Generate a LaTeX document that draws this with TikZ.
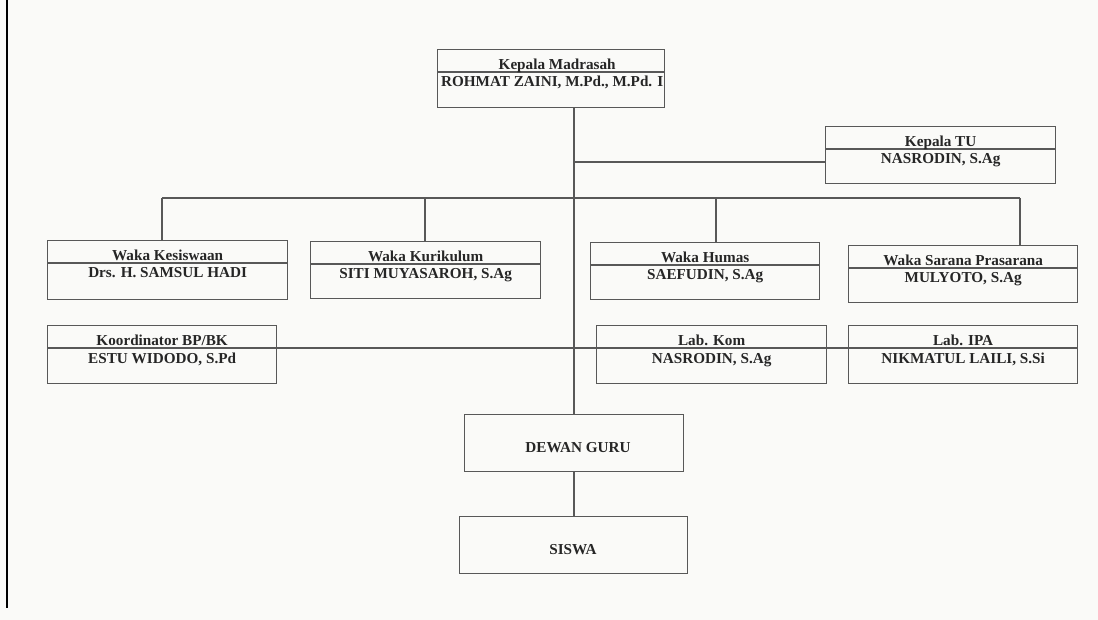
\documentclass[tikz,border=0pt]{standalone}
\usepackage{fontspec}
\setmainfont{Liberation Serif}
\usepackage{tikz}
\usetikzlibrary{calc}
\definecolor{linegray}{RGB}{88,88,88}
\definecolor{paper}{RGB}{250,250,248}

\begin{document}
\begin{tikzpicture}[x=1pt,y=-1pt,
	unit/.style={draw=linegray, line width=1.3pt, anchor=north west, inner sep=0pt},
	link/.style={draw=linegray, line width=1.3pt},
	txt/.style={font=\fontsize{15.2}{17}\selectfont\bfseries, text=black!85, anchor=base, inner sep=0pt}]
				\fill[paper] (0,0) rectangle (1098,620);
				\useasboundingbox (0,0) rectangle (1098,620);
				\draw[line width=1.4pt] (7,0) -- (7,608);

				\node[unit, minimum width=227pt, minimum height=58pt] (kamad) at (437,49) {};
				\node[unit, minimum width=230pt, minimum height=57pt] (katu) at (825,126) {};
				\node[unit, minimum width=240pt, minimum height=59pt] (wkes) at (47,240) {};
				\node[unit, minimum width=230pt, minimum height=57pt] (wkur) at (310,241) {};
				\node[unit, minimum width=229pt, minimum height=57pt] (whum) at (590,242) {};
				\node[unit, minimum width=229pt, minimum height=57pt] (wsar) at (848,245) {};
				\node[unit, minimum width=229pt, minimum height=58pt] (koord) at (47,325) {};
				\node[unit, minimum width=230pt, minimum height=58pt] (labkom) at (596,325) {};
				\node[unit, minimum width=229pt, minimum height=58pt] (labipa) at (848,325) {};
				\node[unit, minimum width=219pt, minimum height=57pt] (dewan) at (464,414) {};
				\node[unit, minimum width=228pt, minimum height=57pt] (siswa) at (459,516) {};

				\foreach \b in {kamad,katu,wkes,wkur,whum,wsar,koord,labkom,labipa}
					\draw[link] ($(\b.north west)+(0,23)$) -- ($(\b.north east)+(0,23)$);

				\node[txt] (kamadT) at ($(kamad.north)+(6,21)$) {Kepala Madrasah};
				\node[txt] (kamadN) at ($(kamad.north)+(1,38)$) {ROHMAT ZAINI, M.Pd., M.Pd. I};
				\node[txt] (katuT) at ($(katu.north)+(0,21)$) {Kepala TU};
				\node[txt] (katuN) at ($(katu.north)+(0,38)$) {NASRODIN, S.Ag};
				\node[txt] (wkesT) at ($(wkes.north)+(0,21)$) {Waka Kesiswaan};
				\node[txt] (wkesN) at ($(wkes.north)+(0,38)$) {Drs. H. SAMSUL HADI};
				\node[txt] (wkurT) at ($(wkur.north)+(0,21)$) {Waka Kurikulum};
				\node[txt] (wkurN) at ($(wkur.north)+(0,38)$) {SITI MUYASAROH, S.Ag};
				\node[txt] (whumT) at ($(whum.north)+(0,21)$) {Waka Humas};
				\node[txt] (whumN) at ($(whum.north)+(0,38)$) {SAEFUDIN, S.Ag};
				\node[txt] (wsarT) at ($(wsar.north)+(0,21)$) {Waka Sarana Prasarana};
				\node[txt] (wsarN) at ($(wsar.north)+(0,38)$) {MULYOTO, S.Ag};
				\node[txt] (koordT) at ($(koord.north)+(0,21)$) {Koordinator BP/BK};
				\node[txt] (koordN) at ($(koord.north)+(0,38)$) {ESTU WIDODO, S.Pd};
				\node[txt] (labkomT) at ($(labkom.north)+(0,21)$) {Lab. Kom};
				\node[txt] (labkomN) at ($(labkom.north)+(0,38)$) {NASRODIN, S.Ag};
				\node[txt] (labipaT) at ($(labipa.north)+(0,21)$) {Lab. IPA};
				\node[txt] (labipaN) at ($(labipa.north)+(0,38)$) {NIKMATUL LAILI, S.Si};
				\node[txt] (dewanT) at (578,452) {DEWAN GURU};
				\node[txt] (siswaT) at (573,554) {SISWA};

				\coordinate (spine) at (574,0);
				\coordinate (tu) at (574,162);
				\coordinate (lab) at (0,348);
				\coordinate (d1) at (162,198);
				\coordinate (d2) at (425,198);
				\coordinate (d3) at (716,198);
				\coordinate (d4) at (1020,198);

				\draw[link] (kamad.south -| spine) -- (dewan.north -| spine);
				\draw[link] (tu) -- (katu.west |- tu);
				\draw[link] (d1) -- (d4);
				\foreach \d/\b in {d1/wkes,d2/wkur,d3/whum,d4/wsar}
					\draw[link] (\d) -- (\d |- \b.north);
				\draw[link] (koord.east |- lab) -- (labkom.west |- lab);
				\draw[link] (labkom.east |- lab) -- (labipa.west |- lab);
				\draw[link] (dewan.south -| spine) -- (siswa.north -| spine);
			\end{tikzpicture}
\end{document}
